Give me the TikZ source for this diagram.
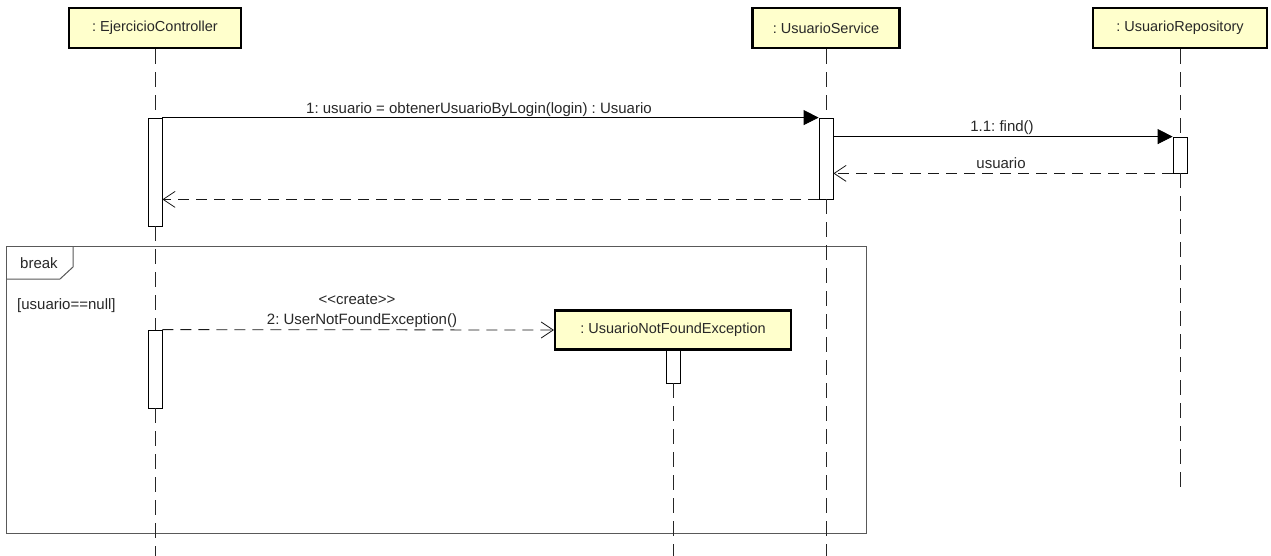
\documentclass[tikz,border=0pt]{standalone}
\usepackage{fontspec}
\setmainfont{Liberation Sans}
\usetikzlibrary{arrows.meta}
\definecolor{hdrfill}{RGB}{255,255,204}
\definecolor{txt}{RGB}{40,40,40}
\frenchspacing
\begin{document}
\begin{tikzpicture}[x=1pt,y=-1pt,
  hdr/.style={draw=black, line width=2.2pt, fill=hdrfill, inner sep=0pt, minimum height=40pt, font=\fontsize{14.5}{17}\selectfont, text=txt},
  act/.style={draw=black, line width=0.8pt, fill=white, minimum width=14pt, inner sep=0pt},
  lifeline/.style={draw=black!85, line width=1pt, dash pattern=on 15pt off 8pt},
  frm/.style={draw=black!65, line width=1pt},
  msg/.style={draw=black, line width=0.8pt},
  ret/.style={draw=black!90, line width=0.8pt, dash pattern=on 11pt off 7pt},
  synctip/.style={-{Triangle[length=15pt,width=15pt]}},
  opentip/.style={-{Straight Barb[length=12pt,width=16pt,line width=0.8pt]}},
  lbl/.style={font=\fontsize{15}{18}\selectfont, text=txt, inner sep=0pt, anchor=base},
]
\useasboundingbox[fill=white] (0,0) rectangle (1271,556);

% frame
\draw[frm] (6,246) rectangle (866,533);
\draw[frm] (6,279) -- (60,279) -- (73,267) -- (73,246);
\node[lbl, anchor=base west] (brk) at (20,268) {break};
\node[lbl, anchor=base west] (grd) at (17,309) {[usuario==null]};

% headers
\node[hdr, minimum width=172pt] (hC) at (155,28) {: EjercicioController};
\node[hdr, minimum width=147pt] (hS) at (826,28) {: UsuarioService};
\node[hdr, minimum width=174pt] (hR) at (1180,28) {: UsuarioRepository};

% end points of lifelines
\coordinate (eC) at (155,556);
\coordinate (eS) at (826,556);
\coordinate (eR) at (1180,488);
\coordinate (eE) at (673,556);

% activations
\path (155,172) node[act, minimum height=108pt] (a1) {};
\path (826,158.5) node[act, minimum height=81pt] (aS) {};
\path (1180,155) node[act, minimum height=36pt] (aR) {};
\path (155,369) node[act, minimum height=78pt] (a2) {};
\path (673,366.5) node[act, minimum height=33pt] (aE) {};

% lifelines
\draw[lifeline] (hC.south) -- (a1.north);
\draw[lifeline] (a1.south) -- (a2.north);
\draw[lifeline] (a2.south) -- (eC);
\draw[lifeline] (hS.south) -- (aS.north);
\draw[lifeline] (aS.south) -- (eS);
\draw[lifeline] (hR.south) -- (aR.north);
\draw[lifeline] (aR.south) -- (eR);
\draw[lifeline] (aE.south) -- (eE);

% exception object
\node[hdr, minimum width=236pt, minimum height=39pt] (exc) at (673,330) {: UsuarioNotFoundException};

% messages
\draw[msg, synctip] (a1.north east) -- (aS.north west);
\node[lbl] (l1) at (479,114) {1: usuario = obtenerUsuarioByLogin(login) : Usuario};

\draw[msg, synctip] (aS.east |- aR.north) -- (aR.north west);
\node[lbl] (l11) at (1002,132) {1.1: find()};

\draw[ret, opentip] (aR.south west) -- (aS.east |- aR.south);
\node[lbl] (lu) at (1001,169) {usuario};

\draw[ret, opentip] (aS.south west) -- (a1.east |- aS.south);

\draw[ret, opentip] (a2.north east) -- (exc.west);
\node[lbl] (lc) at (357,304) {{<}{<}create{>}{>}};
\node[lbl] (l2) at (362,324) {2: UserNotFoundException()};
\end{tikzpicture}
\end{document}
